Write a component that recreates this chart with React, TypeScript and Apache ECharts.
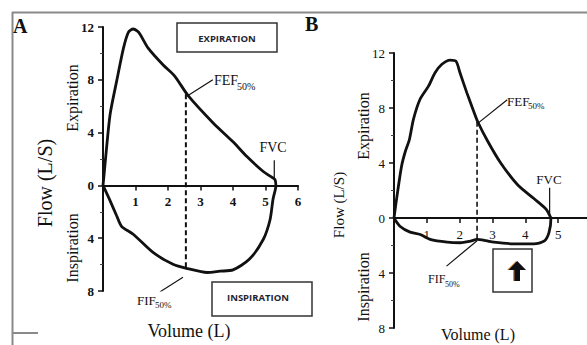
import React, { useEffect, useRef } from "react";
import * as echarts from "echarts";

// ---------- Panel A data ----------
const expVolumeA = [0, 0.04, 0.1, 0.22, 0.42, 0.63, 0.78, 0.93, 1.05, 1.14, 1.39, 1.86, 2.2, 2.62, 3.39, 4.0, 4.42, 4.93, 5.14, 5.29, 5.32];
const expFlowA = [0, 1.0, 2.6, 5.4, 7.9, 10.4, 11.6, 11.85, 11.7, 11.45, 10.4, 9.1, 8.3, 6.8, 4.73, 3.3, 2.2, 1.05, 0.7, 0.45, 0];
const inspVolumeA = [0, 0.2, 0.42, 0.57, 0.93, 1.55, 2.17, 2.6, 3.2, 3.6, 4.0, 4.5, 4.93, 5.14, 5.23, 5.32];
const inspFlowA = [0, -1.06, -2.3, -3.1, -3.7, -5.1, -6.0, -6.3, -6.6, -6.5, -6.4, -5.6, -4.1, -2.6, -1.06, 0];
const fefVolumeA = [2.55, 2.55];
const fefFlowA = [6.9, -6.35];
const fefPointerVolumeA = [2.58, 3.38];
const fefPointerFlowA = [6.75, 8.0];
const fifPointerVolumeA = [1.75, 2.46];
const fifPointerFlowA = [-8.07, -6.95];
const fvcLineVolumeA = [5.27, 5.27];
const fvcLineFlowA = [1.9, 0.45];

// ---------- Panel B data ----------
const expVolumeB = [0, 0.05, 0.12, 0.23, 0.34, 0.47, 0.59, 0.79, 1.05, 1.25, 1.45, 1.71, 1.89, 2.01, 2.22, 2.42, 2.55, 2.85, 3.25, 3.77, 4.27, 4.63, 4.76, 4.78];
const expFlowB = [0, 0.9, 2.07, 3.77, 4.8, 5.71, 7.16, 8.62, 9.59, 10.56, 11.16, 11.48, 11.4, 10.56, 9.1, 7.8, 7.0, 5.6, 4.0, 2.4, 1.4, 0.65, 0.1, 0];
const inspVolumeB = [0, 0.18, 0.49, 0.8, 1.1, 1.62, 2.02, 2.3, 2.53, 2.8, 3.04, 3.65, 4.26, 4.57, 4.72, 4.78];
const inspFlowB = [0, -0.6, -1.03, -1.2, -1.56, -1.76, -1.8, -1.7, -1.56, -1.65, -1.76, -1.88, -1.88, -1.69, -1.06, 0];
const fefVolumeB = [2.53, 2.53];
const fefFlowB = [7.0, -1.6];
const fefPointerVolumeB = [2.56, 3.45];
const fefPointerFlowB = [6.9, 8.6];
const fifPointerVolumeB = [1.6, 2.53];
const fifPointerFlowB = [-3.5, -1.65];
const fvcLineVolumeB = [4.74, 4.74];
const fvcLineFlowB = [2.2, 0.2];

// ---------- Axis ticks ----------
const flowMin = -8;
const flowMax = 12;
const flowInterval = 4;
const volumeTicksA = [1, 2, 3, 4, 5, 6];
const volumeTicksB = [1, 2, 3, 4, 5];

const serif = '"Liberation Serif", "DejaVu Serif", serif';
const sans = '"Open Sans", "Liberation Sans", sans-serif';
const INK = "#111";

const GRID_A = { left: 103, top: 27, width: 195, height: 264 };
const GRID_B = { left: 394, top: 53, width: 197, height: 275 };

const zip = (xs: number[], ys: number[]) => xs.map((x, i) => [x, ys[i]]);
const loop = (ev: number[], ef: number[], iv: number[], iff: number[]) => [
  ...zip(ev, ef),
  ...zip(iv, iff).reverse(),
];

function txt(text: string, x: number, y: number, size: number, o: any = {}) {
  return {
    type: "text",
    x,
    y,
    rotation: o.rotation || 0,
    z: 100,
    style: {
      text,
      fontSize: size,
      fontFamily: o.family || serif,
      fontWeight: o.weight || "normal",
      fill: o.fill || INK,
      align: o.align || "center",
      verticalAlign: o.valign || "middle",
    },
  };
}

function gline(x1: number, y1: number, x2: number, y2: number, color: string, w: number) {
  return {
    type: "line",
    z: 100,
    shape: { x1, y1, x2, y2 },
    style: { stroke: color, lineWidth: w },
  };
}

export default function App() {
  const ref = useRef<HTMLDivElement>(null);
  useEffect(() => {
    if (!ref.current) return;
    const chart = echarts.init(ref.current, null, { renderer: "svg" });

    const yAxisBase = (gridIndex: number, bold: boolean) => ({
      type: "value",
      gridIndex,
      min: flowMin,
      max: flowMax,
      interval: flowInterval,
      axisLine: { show: true, onZero: false, lineStyle: { color: INK, width: 2 } },
      axisTick: { show: true, length: 5, lineStyle: { color: INK, width: 1.5 } },
      minorTick: { show: true, splitNumber: 2, length: 3, lineStyle: { color: "#444", width: 1 } },
      splitLine: { show: false },
      axisLabel: {
        margin: 9,
        fontFamily: serif,
        fontSize: 13,
        fontWeight: bold ? "bold" : "normal",
        color: INK,
        formatter: (v: number) => String(Math.abs(v)),
      },
    });

    // x axis placed at flow = 0 by shifting it up from the grid bottom
    const zeroOffset = (g: { height: number }) => -(g.height * (0 - flowMin)) / (flowMax - flowMin);

    const xAxisBase = (gridIndex: number, ticks: number[], bold: boolean, g: { height: number }) => ({
      type: "value",
      gridIndex,
      min: 0,
      max: 6,
      interval: 1,
      offset: zeroOffset(g),
      axisLine: { show: true, onZero: false, lineStyle: { color: INK, width: 2 } },
      axisTick: { show: true, length: 5, lineStyle: { color: INK, width: 1.5 } },
      splitLine: { show: false },
      axisLabel: {
        margin: 10,
        fontFamily: serif,
        fontSize: 13,
        fontWeight: bold ? "bold" : "normal",
        color: INK,
        formatter: (v: number) => (ticks.indexOf(v) >= 0 ? String(v) : ""),
      },
    });

    const lineSeries = (xi: number, data: number[][], w: number, dashed = false, smooth: number = 0) => ({
      type: "line",
      xAxisIndex: xi,
      yAxisIndex: xi,
      data,
      showSymbol: false,
      symbol: "none",
      smooth,
      silent: true,
      lineStyle: { color: INK, width: w, type: dashed ? [5, 3] : "solid" },
      z: 5,
    });

    const option: any = {
      animation: false,
      backgroundColor: "#ffffff",
      grid: [
        { ...GRID_A, outerBoundsMode: "none" },
        { ...GRID_B, outerBoundsMode: "none" },
      ],
      xAxis: [xAxisBase(0, volumeTicksA, true, GRID_A), xAxisBase(1, volumeTicksB, false, GRID_B)],
      yAxis: [yAxisBase(0, true), yAxisBase(1, false)],
      series: [
        lineSeries(0, loop(expVolumeA, expFlowA, inspVolumeA, inspFlowA), 2.8, false, 0.25),
        lineSeries(0, zip(fefVolumeA, fefFlowA), 2, true),
        lineSeries(0, zip(fefPointerVolumeA, fefPointerFlowA), 1.2),
        lineSeries(0, zip(fifPointerVolumeA, fifPointerFlowA), 1.2),
        lineSeries(0, zip(fvcLineVolumeA, fvcLineFlowA), 1.2),
        lineSeries(1, loop(expVolumeB, expFlowB, inspVolumeB, inspFlowB), 2.8, false, 0.25),
        lineSeries(1, zip(fefVolumeB, fefFlowB), 1.6, true),
        lineSeries(1, zip(fefPointerVolumeB, fefPointerFlowB), 1.2),
        lineSeries(1, zip(fifPointerVolumeB, fifPointerFlowB), 1.2),
        lineSeries(1, zip(fvcLineVolumeB, fvcLineFlowB), 1.2),
      ],
      graphic: [
        // frame
        gline(12, 12.5, 587, 12.5, "#8a8a8a", 2),
        gline(12.5, 12, 12.5, 345, "#8a8a8a", 2),
        gline(13, 333, 38, 333, "#8a8a8a", 2),
        // panel letters
        txt("A", 13, 26, 20, { weight: "bold", align: "left" }),
        txt("B", 305, 24, 20, { weight: "bold", align: "left" }),
        // axis titles A
        txt("Flow (L/S)", 45, 183, 20, { rotation: Math.PI / 2 }),
        txt("Expiration", 72, 98, 16, { rotation: Math.PI / 2 }),
        txt("Inspiration", 72, 248, 16, { rotation: Math.PI / 2 }),
        txt("Volume (L)", 189, 331, 18),
        // axis titles B
        txt("Flow (L/S)", 339, 205, 15, { rotation: Math.PI / 2 }),
        txt("Expiration", 363, 126, 16, { rotation: Math.PI / 2 }),
        txt("Inspiration", 363, 287, 16, { rotation: Math.PI / 2 }),
        txt("Volume (L)", 478, 334, 16),
        // annotations A
        txt("FEF", 214, 80, 14, { align: "left" }),
        txt("50%", 237, 86, 10, { align: "left" }),
        txt("FVC", 273, 147, 14),
        txt("FIF", 137, 300, 13, { align: "left" }),
        txt("50%", 155, 305, 9, { align: "left" }),
        // annotations B
        txt("FEF", 507, 101, 13, { align: "left" }),
        txt("50%", 528, 106, 9, { align: "left" }),
        txt("FVC", 549, 179, 13),
        txt("FIF", 428, 279, 12, { align: "left" }),
        txt("50%", 445, 284, 8, { align: "left" }),
        // boxes
        {
          type: "rect",
          z: 100,
          shape: { x: 177, y: 23, width: 100, height: 29 },
          style: { fill: "#fff", stroke: "#333", lineWidth: 1.5 },
        },
        txt("EXPIRATION", 227, 38, 9.5, { family: sans, weight: "bold", fill: "#1f2430" }),
        {
          type: "rect",
          z: 100,
          shape: { x: 212, y: 282, width: 100, height: 34 },
          style: { fill: "#fff", stroke: "#333", lineWidth: 1.5 },
        },
        txt("INSPIRATION", 258, 297, 9.5, { family: sans, weight: "bold", fill: "#1f2430" }),
        {
          type: "rect",
          z: 100,
          shape: { x: 493, y: 249, width: 39, height: 43 },
          style: { fill: "#fff", stroke: "#333", lineWidth: 1.5 },
        },
        {
          type: "polygon",
          z: 101,
          shape: {
            points: [[516, 261], [525, 270], [519, 270], [519, 281], [513, 281], [513, 270], [507, 270]],
          },
          style: { fill: "#e0902a" },
        },
        {
          type: "polygon",
          z: 102,
          shape: {
            points: [[517.2, 261], [526, 270], [520, 270], [520, 281], [514.4, 281], [514.4, 270], [508.4, 270]],
          },
          style: { fill: "#0d0d14" },
        },
      ],
    };

    chart.setOption(option);
    return () => chart.dispose();
  }, []);

  return (
    <div
      ref={ref}
      style={{ position: "fixed", left: 0, top: 0, width: 587, height: 345, background: "#fff" }}
    />
  );
}
